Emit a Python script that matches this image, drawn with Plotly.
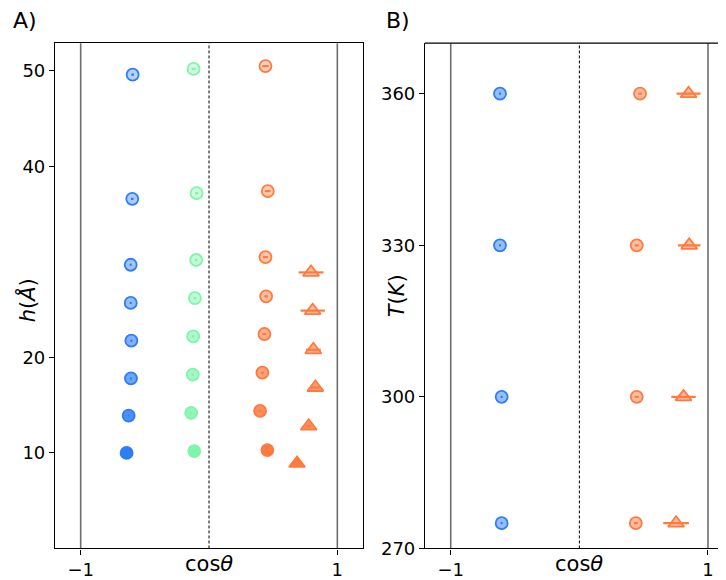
import plotly.graph_objects as go

# ---------------- data ----------------
# Panel A : h (Å) vs cos(theta)
h_blue = [10.0, 13.9, 17.8, 21.75, 25.7, 29.7, 36.6, 49.6]
x_blue = [-0.642, -0.626, -0.608, -0.605, -0.61, -0.61, -0.598, -0.595]
e_blue = [0.0, 0.005, 0.008, 0.008, 0.008, 0.008, 0.01, 0.01]

h_green = [10.2, 14.2, 18.2, 22.2, 26.2, 30.2, 37.2, 50.2]
x_green = [-0.115, -0.139, -0.126, -0.123, -0.11, -0.10, -0.097, -0.12]
e_green = [0.0, 0.008, 0.01, 0.01, 0.01, 0.01, 0.012, 0.015]

h_orange = [10.3, 14.4, 18.4, 22.45, 26.4, 30.5, 37.4, 50.5]
x_orange = [0.455, 0.398, 0.416, 0.432, 0.445, 0.44, 0.458, 0.44]
e_orange = [0.0, 0.01, 0.012, 0.015, 0.015, 0.02, 0.022, 0.025]

h_tri = [8.9, 12.8, 16.85, 20.8, 24.9, 28.9]
x_tri = [0.686, 0.777, 0.829, 0.813, 0.808, 0.795]
e_tri = [0.0, 0.02, 0.04, 0.058, 0.095, 0.097]

# Panel B : T (K) vs cos(theta)
T_vals = [275, 300, 330, 360]
xb_blue = [-0.604, -0.604, -0.617, -0.617]
eb_blue = [0.008, 0.008, 0.008, 0.008]
xb_orange = [0.439, 0.446, 0.446, 0.472]
eb_orange = [0.015, 0.015, 0.015, 0.015]
xb_tri = [0.752, 0.81, 0.854, 0.849]
eb_tri = [0.1, 0.095, 0.088, 0.093]

yticks_A = [10, 20, 40, 50]
yticks_B = [270, 300, 330, 360]
xticks = [-1, 1]
xtick_text = ["\u22121", "1"]

# ---------------- styles ----------------
BLUE = (45, 125, 245)
GREEN = (127, 245, 170)
ORANGE = (255, 122, 63)
alpha_A = [1.0, 0.85, 0.7, 0.6, 0.5, 0.45, 0.4, 0.35]
alpha_tri = [1.0, 0.85, 0.7, 0.6, 0.5, 0.45]
alpha_B = [0.5, 0.5, 0.5, 0.5]


def rgba(c, a):
    return "rgba(%d,%d,%d,%.2f)" % (c[0], c[1], c[2], a)


def rgb(c):
    return "rgb(%d,%d,%d)" % c


def series(x, y, err, col, alphas, symbol, size, xa, ya):
    return go.Scatter(
        x=x, y=y, mode="markers", xaxis=xa, yaxis=ya, showlegend=False,
        marker=dict(symbol=symbol, size=size,
                    color=[rgba(col, a) for a in alphas],
                    line=dict(color=rgb(col), width=1.8)),
        error_x=dict(type="data", array=err, visible=True, width=0,
                     thickness=2.2, color=rgb(col)),
    )


fig = go.Figure()
fig.add_trace(series(x_blue, h_blue, e_blue, BLUE, alpha_A, "circle", 12, "x", "y"))
fig.add_trace(series(x_green, h_green, e_green, GREEN, alpha_A, "circle", 12, "x", "y"))
fig.add_trace(series(x_orange, h_orange, e_orange, ORANGE, alpha_A, "circle", 12, "x", "y"))
fig.add_trace(series(x_tri, h_tri, e_tri, ORANGE, alpha_tri, "triangle-up", 14, "x", "y"))

fig.add_trace(series(xb_blue, T_vals, eb_blue, BLUE, alpha_B, "circle", 12, "x2", "y2"))
fig.add_trace(series(xb_orange, T_vals, eb_orange, ORANGE, alpha_B, "circle", 12, "x2", "y2"))
fig.add_trace(series(xb_tri, T_vals, eb_tri, ORANGE, alpha_B, "triangle-up", 14, "x2", "y2"))

# page body has an 8px margin; vertical capture scale ~0.982
OFF = 8
VS = 0.982
W, H = 710, 574


def px(xr):
    return (xr - OFF) / W


def py(yr):
    return 1 - (yr / VS - OFF) / H


ydom = [py(548), py(43)]
axfont = dict(family="DejaVu Sans", size=18, color="black")

common_x = dict(tickvals=xticks, ticktext=xtick_text, ticks="outside", ticklen=5,
                tickwidth=1, tickcolor="black", showgrid=False, zeroline=False,
                showline=True, linecolor="black", linewidth=1.2, tickfont=axfont)
common_y = dict(ticks="outside", ticklen=5, tickwidth=1, tickcolor="black",
                showgrid=False, zeroline=False, showline=True, linecolor="black",
                linewidth=1.2, tickfont=axfont)

fig.update_layout(
    width=W, height=H, margin=dict(l=0, r=0, t=0, b=0),
    paper_bgcolor="white", plot_bgcolor="white",
    xaxis=dict(domain=[px(55), px(363)], range=[-1.2, 1.2], mirror=True, anchor="y", **common_x),
    yaxis=dict(domain=ydom, range=[0, 52.9], tickvals=yticks_A, mirror=True, anchor="x", **common_y),
    xaxis2=dict(domain=[px(425), 1.0], range=[-1.2, 1 + (W + OFF - 708) / 128.5], anchor="y2", **common_x),
    yaxis2=dict(domain=ydom, range=[270, 370], tickvals=yticks_B, anchor="x2", **common_y),
)

shapes = []
for xa, ya in (("x", "y"), ("x2", "y2")):
    for v in (-1, 1):
        shapes.append(dict(type="line", xref=xa, yref=ya + " domain", x0=v, x1=v, y0=0, y1=1,
                           line=dict(color="rgb(110,110,110)", width=1.6), layer="below"))
    shapes.append(dict(type="line", xref=xa, yref=ya + " domain", x0=0, x1=0, y0=0, y1=1,
                       line=dict(color="black", width=1, dash="3px,2px"), layer="below"))
# top spine for panel B
shapes.append(dict(type="line", xref="x2 domain", yref="y2 domain", x0=0, x1=1, y0=1, y1=1,
                   line=dict(color="black", width=1.2)))
fig.update_layout(shapes=shapes)

big = dict(family="DejaVu Sans", size=22, color="black")
lab = dict(family="DejaVu Sans", size=21, color="black")
ann = [
    dict(text="A)", x=px(11), y=py(20), xref="paper", yref="paper", showarrow=False,
         xanchor="left", yanchor="middle", font=big),
    dict(text="B)", x=px(384), y=py(20), xref="paper", yref="paper", showarrow=False,
         xanchor="left", yanchor="middle", font=big),
    dict(text="cos<i>\u03b8</i>", x=px(209), y=py(564), xref="paper", yref="paper",
         showarrow=False, xanchor="center", yanchor="middle", font=lab),
    dict(text="cos<i>\u03b8</i>", x=px(579), y=py(564), xref="paper", yref="paper",
         showarrow=False, xanchor="center", yanchor="middle", font=lab),
    dict(text="<i>h</i>(<i>\u00c5</i>)", x=px(27), y=py(300), xref="paper", yref="paper",
         showarrow=False, textangle=-90, xanchor="center", yanchor="middle", font=lab),
    dict(text="<i>T</i>(<i>K</i>)", x=px(397), y=py(296), xref="paper", yref="paper",
         showarrow=False, textangle=-90, xanchor="center", yanchor="middle", font=lab),
]
fig.update_layout(annotations=ann)

fig.write_html("out.html")
